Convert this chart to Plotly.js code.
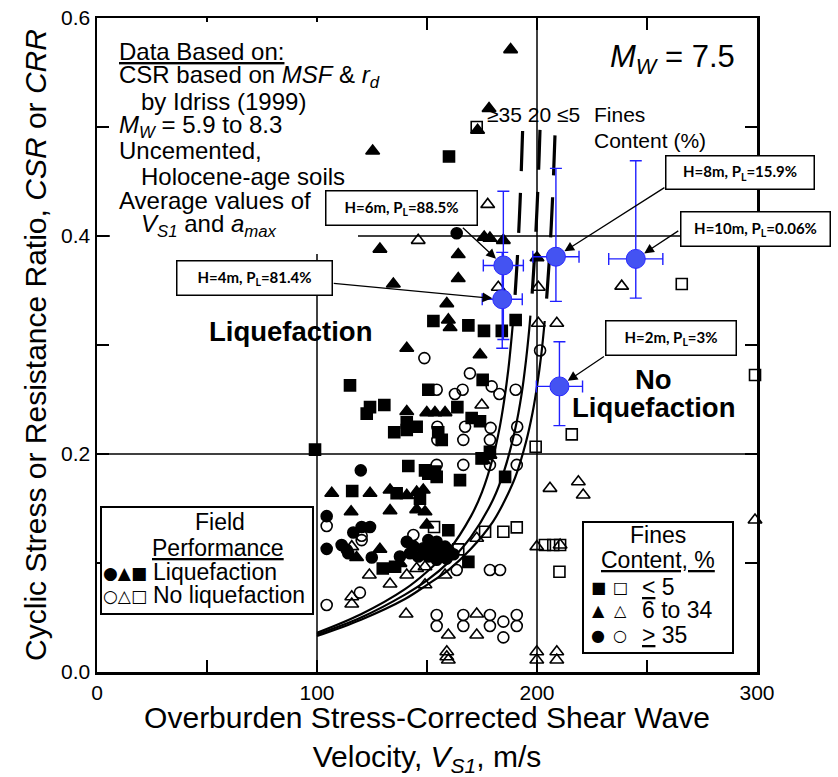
<!DOCTYPE html>
<html><head><meta charset="utf-8">
<script src="https://cdn.plot.ly/plotly-3.0.1.min.js"></script>
<style>body{margin:0;background:#fff}#chart{width:838px;height:777px}</style>
</head><body><div id="chart"></div>
<script>
// ---------------- data ----------------
// CRR curves (Vs1, CRR) for fines content >=35, 20, <=5 %
const crr35SolidX = [100,120,140,150,160,170,175,180,183,185,187,188.5,189.3];
const crr35SolidY = [0.036,0.053,0.076,0.092,0.112,0.143,0.165,0.197,0.224,0.248,0.278,0.308,0.326];
const crr35DashX = [189.3,190,191,192,192.8,193.5];
const crr35DashY = [0.326,0.345,0.377,0.417,0.457,0.499];
const crr20SolidX = [100,120,140,150,160,170,180,185,190,193,195,196.5,197];
const crr20SolidY = [0.0345,0.050,0.071,0.084,0.101,0.124,0.158,0.184,0.222,0.255,0.286,0.315,0.327];
const crr20DashX = [197,198,199,200,201,201.5];
const crr20DashY = [0.327,0.353,0.385,0.425,0.475,0.507];
const crr5SolidX = [100,120,140,150,160,170,180,185,190,195,198,200,202,203.5];
const crr5SolidY = [0.033,0.048,0.067,0.080,0.094,0.113,0.138,0.156,0.178,0.211,0.238,0.262,0.292,0.322];
const crr5DashX = [203.5,204.5,205.5,206.5,207.5,208.2];
const crr5DashY = [0.322,0.346,0.375,0.410,0.455,0.494];

// Field case histories: liquefaction (filled) / no liquefaction (open)
const liqSquareX = [160,190.3,152.9,168.8,175.9,184,115,175.3,150.6,124.1,130.6,122.6,163.8,170.3,174.1,135.1,140.8,145.3,140.8,155.1,156.7,178.6,99.1,141.5,149.1,153.6,165,185.5,174.8,116,136.2,146.8,159.7,129.9,135.5,168.8,150.6,154.4];
const liqSquareY = [0.473,0.323,0.322,0.318,0.313,0.313,0.263,0.268,0.259,0.243,0.245,0.237,0.243,0.233,0.230,0.220,0.222,0.225,0.229,0.220,0.213,0.202,0.204,0.189,0.185,0.184,0.176,0.179,0.196,0.166,0.164,0.159,0.130,0.095,0.0966,0.101,0.182,0.179];
const liqTriX = [188,178.2,173,125.3,178.6,184.7,128.6,164.2,164.2,134.7,200,159,159.7,160.5,140.8,174.1,140.8,149.9,153.6,158.2,175.6,148.3,178.6,106.7,124.1,133.2,140.8,145.3,115.5,133.2,145.3,149.1,118,128.6,149.9,137.7,176];
const liqTriY = [0.571,0.517,0.497,0.478,0.398,0.396,0.388,0.383,0.361,0.356,0.380,0.338,0.323,0.316,0.297,0.291,0.239,0.238,0.238,0.238,0.194,0.167,0.199,0.164,0.164,0.167,0.162,0.165,0.147,0.148,0.149,0.147,0.105,0.1126,0.135,0.0997,0.399];
const liqCircX = [163.5,119.9,104.4,116.5,124.1,104.4,111.2,113.5,124.9,114.2,150.6,154.4,158.2,148.3,152.1,155.9,159.7,140.8,137.7,142.3,146,150.6,158.9,154.4,144,162,120.3];
const liqCircY = [0.4025,0.185,0.143,0.128,0.133,0.113,0.1165,0.112,0.105,0.109,0.121,0.1195,0.115,0.1135,0.112,0.110,0.112,0.1195,0.106,0.109,0.106,0.106,0.104,0.103,0.115,0.108,0.133];
const noSquareX = [172.6,265.8,199.4,215.8,299.1,153.2,164.2,176.4,184.7,190.8,203.6,207.4,210.2,210.5];
const noSquareY = [0.500,0.356,0.2067,0.218,0.2725,0.133,0.1125,0.1287,0.1287,0.1327,0.1165,0.1165,0.092,0.1165];
const noTriX = [177.6,146,182.4,200.6,238.5,174.9,200.6,209,205.9,218.8,221,115.8,133.2,145.3,149.1,140.8,158.2,123.8,133.2,149.1,115.8,115.8,140.5,172.6,159.7,172.6,159,159.7,159,199.9,199.9,209,209,199.9,210.5,299.1,172.6];
const noTriY = [0.429,0.396,0.353,0.353,0.354,0.245,0.320,0.320,0.1685,0.1746,0.1624,0.115,0.095,0.095,0.0966,0.089,0.089,0.089,0.0807,0.080,0.069,0.0624,0.0532,0.0532,0.034,0.034,0.0186,0.011,0.014,0.0186,0.011,0.0186,0.011,0.115,0.1165,0.1394,0.1227];
const noCircX = [148.8,169.5,154.4,162.7,166.2,179.4,182.9,190.3,154.7,154.7,167.3,166.5,178.9,178.6,191,190.5,201.4,154.4,166.5,178.6,190.8,104.4,120.3,120.3,143.8,163.5,178.6,183.2,119.5,104.4,154.4,154.4,166.5,166.5,178.6,178.6,184.7,190.8,190.8,184.7];
const noCircY = [0.288,0.274,0.259,0.255,0.259,0.262,0.255,0.259,0.225,0.213,0.225,0.213,0.224,0.213,0.225,0.213,0.295,0.19,0.19,0.19,0.19,0.134,0.125,0.121,0.1257,0.0936,0.0936,0.0936,0.0728,0.0615,0.0523,0.0422,0.0523,0.0422,0.0523,0.0422,0.0462,0.0523,0.0422,0.0318];

// Highlighted site cases (blue) with error bars
const caseLabels = ['H=2m, P<sub>L</sub>=3%','H=4m, P<sub>L</sub>=81.4%','H=6m, P<sub>L</sub>=88.5%','H=8m, P<sub>L</sub>=15.9%','H=10m, P<sub>L</sub>=0.06%'];
const caseX = [210.2,184.2,184.7,208.6,244.9];
const caseY = [0.262,0.342,0.373,0.381,0.379];
const caseXErr = [10.5,9.1,9.1,10.5,12.3];
const caseYErrPlus = [0.041,0.043,0.068,0.081,0.090];
const caseYErrMinus = [0.036,0.045,0.068,0.041,0.036];

// axis ticks
const xTickVals = [0,50,100,150,200,250,300];
const xTickText = ['0','','100','','200','','300'];
const yTickVals = [0,0.1,0.2,0.3,0.4,0.5,0.6];
const yTickText = ['0.0','','0.2','','0.4','','0.6'];

// ---------------- layout helpers (pixel -> paper) ----------------
const L = 97, T = 18, PW = 660, PH = 654;
const px = v => (v - L) / PW;
const py = v => (T + PH - v) / PH;
const SANS = 'Liberation Sans, Arial, Helvetica, sans-serif';

const traces = [];
function curve(x, y, dashed) {
  traces.push({x, y, type:'scatter', mode:'lines', hoverinfo:'skip',
    line:{color:'black', width: dashed ? 3.2 : 2.2, shape:'spline',
      dash: dashed ? '0px,22px,40px,0px' : 'solid'}});
}
curve(crr35SolidX, crr35SolidY, false); curve(crr35DashX, crr35DashY, true);
curve(crr20SolidX, crr20SolidY, false); curve(crr20DashX, crr20DashY, true);
curve(crr5SolidX, crr5SolidY, false); curve(crr5DashX, crr5DashY, true);

function pts(x, y, symbol, size) {
  traces.push({x, y, type:'scatter', mode:'markers', cliponaxis:false, hoverinfo:'x+y',
    marker:{symbol, size, color:'black', line:{color:'black', width:1.6}}});
}
pts(noSquareX, noSquareY, 'square-open', 11);
pts(noTriX, noTriY, 'triangle-up-open', 12);
pts(noCircX, noCircY, 'circle-open', 11);
pts(liqSquareX, liqSquareY, 'square', 11);
pts(liqTriX, liqTriY, 'triangle-up', 12);
pts(liqCircX, liqCircY, 'circle', 11);

traces.push({x:caseX, y:caseY, type:'scatter', mode:'markers', cliponaxis:false,
  marker:{symbol:'circle', size:19, color:'#4453f2', line:{color:'#2b2bff', width:1}},
  error_x:{type:'data', array:caseXErr, color:'#2020ff', thickness:1.4, width:6},
  error_y:{type:'data', symmetric:false, array:caseYErrPlus, arrayminus:caseYErrMinus, color:'#2020ff', thickness:1.4, width:6}});

// ---------------- annotations ----------------
const ann = [];
function txt(text, x, y, size, opts) {
  ann.push(Object.assign({text, x:px(x), y:py(y), xref:'paper', yref:'paper', showarrow:false,
    xanchor:'left', yanchor:'middle', borderpad:0, font:{family:SANS, size, color:'black'}}, opts || {}));
}
const GLYPH = 'DejaVu Sans, sans-serif';
// Data-based block
txt('<u>Data Based on:</u>', 118, 52, 24);
txt('CSR based on <i>MSF</i> & <i>r<sub>d</sub></i>', 118, 76, 24);
txt('by Idriss (1999)', 140, 101, 24);
txt('<i>M<sub>W</sub></i> = 5.9 to 8.3', 118, 126, 24);
txt('Uncemented,', 118, 151, 24);
txt('Holocene-age soils', 140, 176, 24);
txt('Average values of', 118, 200, 24);
txt('<i>V<sub>S1</sub></i> and <i>a<sub>max</sub></i>', 140, 225, 24);
// magnitude
txt('<i>M<sub>W</sub></i> = 7.5', 609, 59, 31);
// fines content labels on curves
txt('\u226535 20 \u22645', 581, 115, 21, {xanchor:'right'});
txt('Fines', 593, 115, 21);
txt('Content (%)', 593, 140, 21);
// region labels
txt('<b>Liquefaction</b>', 290, 331, 27.5, {xanchor:'center'});
txt('<b>No</b>', 653, 379, 27.5, {xanchor:'center'});
txt('<b>Liquefaction</b>', 653, 407, 27.5, {xanchor:'center'});
// field performance legend
txt('Field', 220, 522, 23, {xanchor:'center'});
txt('<u>Performance</u>', 218, 548, 23, {xanchor:'center'});
txt('\u25CF\u25B2\u25A0', 102, 573, 17, {font:{family:GLYPH, size:17, color:'black'}});
txt('Liquefaction', 152, 572, 23);
txt('\u25CB\u25B3\u25A1', 102, 596, 17, {font:{family:GLYPH, size:17, color:'black'}});
txt('No liquefaction', 152, 595, 23);
// fines content legend
txt('Fines', 658, 535, 23, {xanchor:'center'});
txt('<u>Content, %</u>', 658, 560, 23, {xanchor:'center'});
const symRows = [['\u25A0','\u25A1','<u>&lt;</u> 5',587],['\u25B2','\u25B3','6 to 34',610],['\u25CF','\u25CB','<u>&gt;</u> 35',635]];
symRows.forEach(r => {
  txt(r[0], 598, r[3], 16, {xanchor:'center', font:{family:GLYPH, size:16, color:'black'}});
  txt(r[1], 620, r[3], 16, {xanchor:'center', font:{family:GLYPH, size:16, color:'black'}});
  txt(r[2], 641, r[3], 23);
});

// case boxes
const boxC = [[671,337.5,131,35],[254,277.5,156,35],[401,207.5,152,35],[740,173,149,34],[755,229,150,35]];
const arrowOff = [[46,-31],[-170,-16],[-42,-39],[110,-70],[44,-29]];
caseLabels.forEach((lab, i) => {
  ann.push({text:'', x:caseX[i], y:caseY[i], xref:'x', yref:'y', showarrow:true,
    ax:arrowOff[i][0], ay:arrowOff[i][1], arrowhead:2, arrowsize:1.5, arrowwidth:1.3,
    arrowcolor:'black', standoff:10});
  const b = boxC[i];
  ann.push({text:'<b>' + lab + '</b>', x:px(b[0]), y:py(b[1]), xref:'paper', yref:'paper',
    showarrow:false, xanchor:'center', yanchor:'middle', width:b[2]-2, height:b[3]-2,
    bgcolor:'white', bordercolor:'black', borderwidth:1.5, borderpad:0,
    font:{family:'Lato, Open Sans, sans-serif', size:15, color:'black'}});
});

// ---------------- shapes ----------------
const shapes = [
  {type:'line', xref:'x', yref:'paper', x0:100, x1:100, y0:0, y1:1, line:{color:'black', width:1.5}, layer:'below'},
  {type:'line', xref:'x', yref:'paper', x0:200, x1:200, y0:0, y1:1, line:{color:'black', width:1.5}, layer:'below'},
  {type:'line', xref:'paper', yref:'y', x0:0, x1:1, y0:0.2, y1:0.2, line:{color:'black', width:1.5}, layer:'below'},
  {type:'line', xref:'paper', yref:'y', x0:0, x1:1, y0:0.4, y1:0.4, line:{color:'black', width:1.5}, layer:'below'},
  {type:'rect', xref:'paper', yref:'paper', x0:px(110), x1:px(358), y0:py(254), y1:py(22), fillcolor:'white', line:{width:0}, layer:'above'},
  {type:'rect', xref:'paper', yref:'paper', x0:px(101), x1:px(313), y0:py(614), y1:py(507), fillcolor:'white', line:{color:'black', width:2}, layer:'above'},
  {type:'rect', xref:'paper', yref:'paper', x0:px(583), x1:px(733), y0:py(653), y1:py(522), fillcolor:'white', line:{color:'black', width:2}, layer:'above'}
];

const axisCommon = {ticks:'inside', ticklen:12, tickwidth:1.5, tickcolor:'black', mirror:'ticks',
  showline:true, linewidth:2.5, linecolor:'black', showgrid:false, zeroline:false,
  tickfont:{family:SANS, size:21, color:'black'}};

const layout = {
  width:838, height:777, margin:{l:L, r:838-L-PW, t:T, b:777-T-PH},
  paper_bgcolor:'white', plot_bgcolor:'white', showlegend:false,
  font:{family:SANS, color:'black'},
  xaxis:Object.assign({}, axisCommon, {range:[0,300], tickvals:xTickVals, ticktext:xTickText,
    title:{text:'Overburden Stress-Corrected Shear Wave<br>Velocity, <i>V<sub>S1</sub></i>, m/s', font:{family:SANS, size:30}, standoff:5}}),
  yaxis:Object.assign({}, axisCommon, {range:[0,0.6], tickvals:yTickVals, ticktext:yTickText,
    title:{text:'Cyclic Stress or Resistance Ratio, <i>CSR</i> or <i>CRR</i>', font:{family:SANS, size:30}, standoff:6}}),
  annotations:ann, shapes:shapes
};

Plotly.newPlot('chart', traces, layout, {displayModeBar:false, staticPlot:true});
</script></body></html>
